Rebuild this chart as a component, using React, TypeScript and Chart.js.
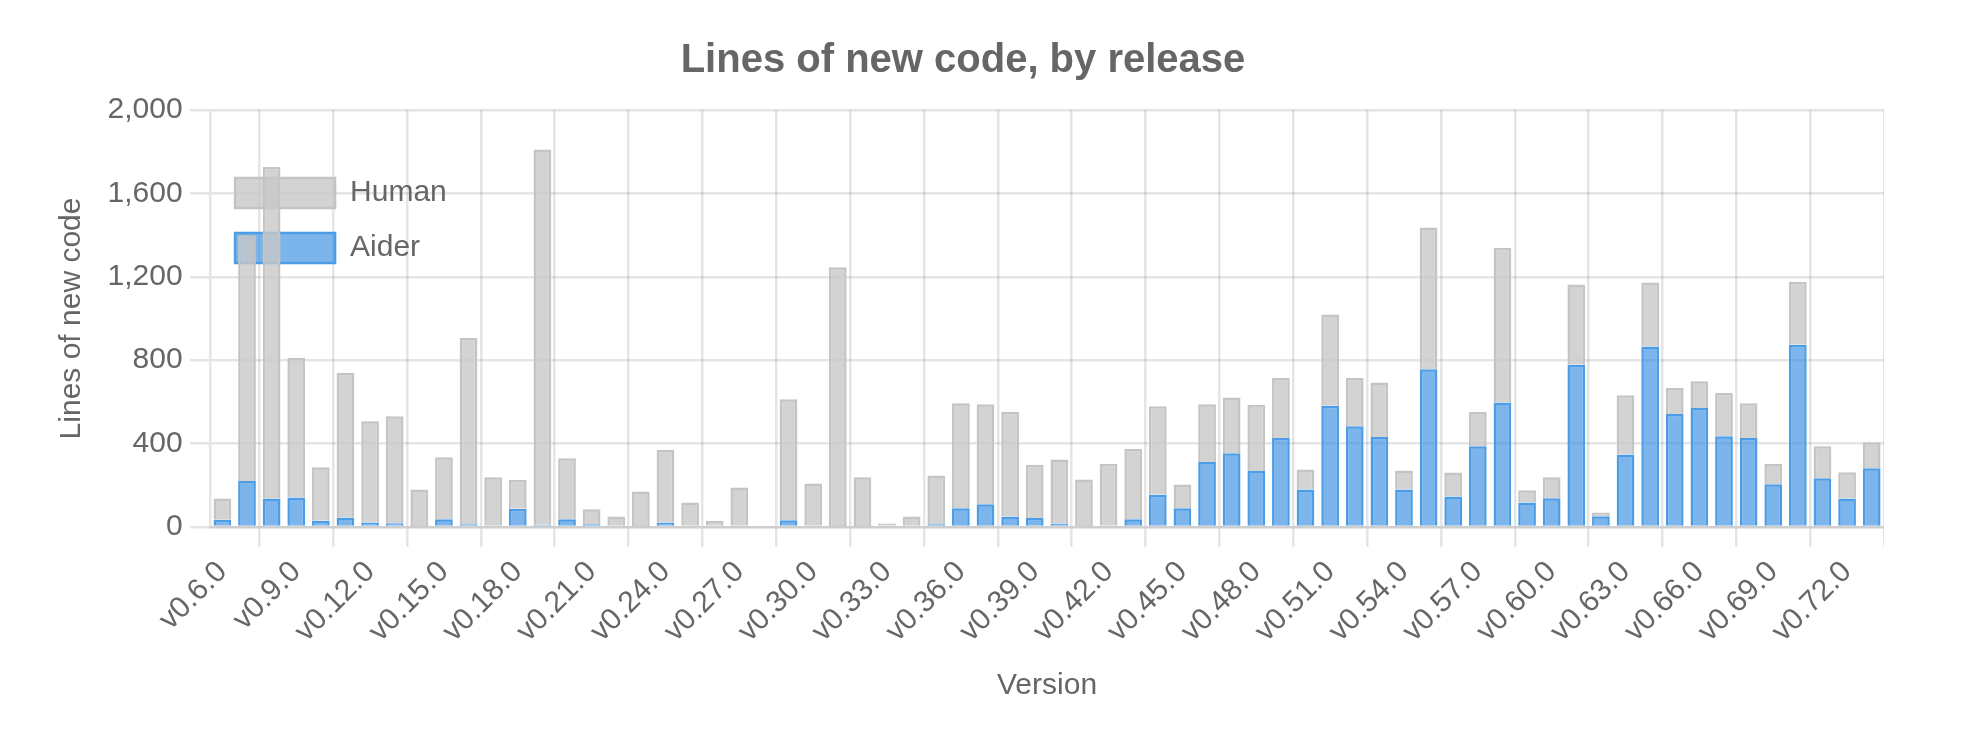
import React, { useEffect, useRef } from 'react';
import { Chart, registerables } from 'chart.js';

Chart.register(...registerables);

const versions = [
  'v0.6.0', 'v0.7.0', 'v0.8.0', 'v0.9.0', 'v0.10.0', 'v0.11.0', 'v0.12.0', 'v0.13.0', 'v0.14.0', 'v0.15.0',
  'v0.16.0', 'v0.17.0', 'v0.18.0', 'v0.19.0', 'v0.20.0', 'v0.21.0', 'v0.22.0', 'v0.23.0', 'v0.24.0', 'v0.25.0',
  'v0.26.0', 'v0.27.0', 'v0.28.0', 'v0.29.0', 'v0.30.0', 'v0.31.0', 'v0.32.0', 'v0.33.0', 'v0.34.0', 'v0.35.0',
  'v0.36.0', 'v0.37.0', 'v0.38.0', 'v0.39.0', 'v0.40.0', 'v0.41.0', 'v0.42.0', 'v0.43.0', 'v0.44.0', 'v0.45.0',
  'v0.46.0', 'v0.47.0', 'v0.48.0', 'v0.49.0', 'v0.50.0', 'v0.51.0', 'v0.52.0', 'v0.53.0', 'v0.54.0', 'v0.55.0',
  'v0.56.0', 'v0.57.0', 'v0.58.0', 'v0.59.0', 'v0.60.0', 'v0.61.0', 'v0.62.0', 'v0.63.0', 'v0.64.0', 'v0.65.0',
  'v0.66.0', 'v0.67.0', 'v0.68.0', 'v0.69.0', 'v0.70.0', 'v0.71.0', 'v0.72.0', 'v0.73.0',
];

const aiderLines = [
  35, 220, 136, 141, 30, 45, 21, 18, 5, 37, 13, 8, 87, 11, 37, 13, 0, 3,
  21, 0, 0, 0, 0, 32, 0, 3, 5, 0, 0, 13, 90, 109, 50, 43, 16, 5,
  0, 37, 154, 90, 311, 353, 268, 427, 180, 581, 483, 431, 180, 757, 146, 387, 597, 117,
  138, 778, 51, 348, 865, 542, 571, 435, 427, 205, 874, 234, 136, 282,
];

const humanLines = [
  101, 1179, 1590, 671, 257, 693, 486, 513, 175, 297, 893, 231, 139, 1800, 293, 72, 50, 167,
  349, 117, 30, 189, 0, 581, 208, 1243, 234, 16, 50, 234, 503, 480, 503, 255, 308, 223,
  303, 337, 425, 114, 278, 268, 317, 287, 96, 438, 231, 262, 91, 679, 115, 165, 742, 59,
  101, 385, 18, 284, 307, 125, 128, 207, 166, 97, 302, 153, 127, 124,
];

const yTickStep = 400;
const yMax = 2000;

const TEXT = '#666';
const GRID = 'rgba(0,0,0,0.1)';

export default function App() {
  const ref = useRef<HTMLCanvasElement | null>(null);

  useEffect(() => {
    document.body.style.margin = '0';
    Chart.defaults.font.family = "'Liberation Sans', Arial, Helvetica, sans-serif";
    Chart.defaults.font.size = 30;
    Chart.defaults.color = TEXT;
    const canvas = ref.current;
    if (!canvas) return;
    const chart = new Chart(canvas, {
      type: 'bar',
      data: {
        labels: versions,
        datasets: [
          {
            label: 'Aider',
            data: aiderLines,
            backgroundColor: 'rgba(54, 142, 225, 0.65)',
            borderColor: 'rgb(77, 157, 230)',
            borderWidth: 2.5,
          },
          {
            label: 'Human',
            data: humanLines,
            backgroundColor: 'rgba(200, 200, 200, 0.8)',
            borderColor: 'rgba(196, 196, 196, 1)',
            borderWidth: 2.5,
          },
        ],
      },
      options: {
        responsive: false,
        animation: false,
        devicePixelRatio: 1,
        layout: { padding: { left: 42, top: 0, right: 0, bottom: 0 } },
        scales: {
          x: {
            stacked: true,
            title: { display: true, text: 'Version', color: TEXT, padding: { top: 11, bottom: 10 }, font: { size: 30 } },
            ticks: { maxRotation: 45, minRotation: 45, padding: 7.5, color: TEXT, font: { size: 30 } },
            grid: { color: GRID, lineWidth: 2.5, tickLength: 20 },
            border: { color: GRID, width: 2.5 },
          },
          y: {
            stacked: true,
            beginAtZero: true,
            max: yMax,
            title: { display: true, text: 'Lines of new code', color: TEXT, padding: { top: 12, bottom: 10 }, font: { size: 30 } },
            ticks: { stepSize: yTickStep, padding: 7.5, color: TEXT, font: { size: 30 } },
            grid: { color: GRID, lineWidth: 2.5, tickLength: 20 },
            border: { color: GRID, width: 2.5 },
          },
        },
        plugins: {
          legend: {
            position: 'chartArea' as any,
            reverse: true,
            labels: { boxWidth: 100, boxHeight: 30, padding: 25, color: TEXT, font: { size: 30 } },
          },
          title: {
            display: true,
            text: 'Lines of new code, by release',
            color: TEXT,
            padding: 25,
            font: { size: 40, weight: 'bold' },
          },
          tooltip: { enabled: false },
        },
      },
    });
    return () => chart.destroy();
  }, []);

  return (
    <div style={{ position: 'relative', width: 1966, height: 736, overflow: 'hidden', background: '#fff' }}>
      <canvas
        ref={ref}
        width={1884}
        height={702}
        style={{ position: 'absolute', left: 0, top: 12, width: 1884, height: 702 }}
      />
    </div>
  );
}
